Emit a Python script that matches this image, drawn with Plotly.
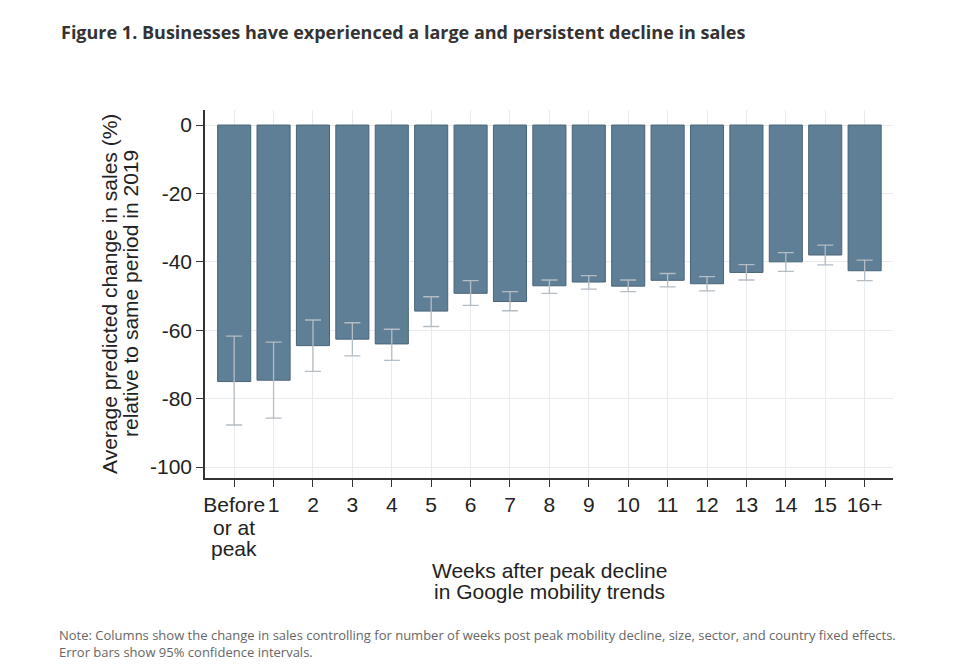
import plotly.graph_objects as go

categories = ["Before", "1", "2", "3", "4", "5", "6", "7", "8", "9",
              "10", "11", "12", "13", "14", "15", "16+"]
first_label_extra = ["or at", "peak"]
sales_change = [-75.0, -74.6, -64.5, -62.6, -64.0, -54.4, -49.2, -51.6, -47.0, -45.9,
                -47.1, -45.4, -46.4, -43.1, -40.0, -38.0, -42.6]
ci_upper = [-61.7, -63.5, -57.0, -57.8, -59.7, -50.2, -45.5, -48.7, -45.3, -44.0,
            -45.3, -43.4, -44.3, -40.8, -37.3, -35.1, -39.5]
ci_lower = [-87.7, -85.7, -72.0, -67.5, -68.8, -58.9, -52.7, -54.3, -49.2, -48.0,
            -48.7, -47.3, -48.5, -45.3, -42.8, -40.9, -45.5]
y_ticks = [0, -20, -40, -60, -80, -100]
y_tick_labels = ["0", "-20", "-40", "-60", "-80", "-100"]
x_title_lines = ["Weeks after peak decline", "in Google mobility trends"]
y_title_lines = ["Average predicted change in sales (%)", "relative to same period in 2019"]

err_plus = [u - v for u, v in zip(ci_upper, sales_change)]
err_minus = [v - l for v, l in zip(sales_change, ci_lower)]

fig = go.Figure()
fig.add_trace(go.Bar(
    x=list(range(len(categories))),
    y=sales_change,
    width=0.84,
    marker=dict(color="#5f7f96", line=dict(color="#4a6579", width=1)),
    error_y=dict(type="data", symmetric=False, array=err_plus, arrayminus=err_minus,
                 color="#b4bcc4", thickness=1.3, width=8),
))

axis_font = dict(family="Liberation Sans, Arial, sans-serif", size=21, color="#222")
title_font = dict(family="Liberation Sans, Arial, sans-serif", size=21, color="#222")

fig.update_layout(
    width=968, height=671,
    paper_bgcolor="white", plot_bgcolor="white",
    margin=dict(l=197, r=83, t=102, b=201, autoexpand=False),
    showlegend=False,
    font=axis_font,
    xaxis=dict(
        tickmode="array", tickvals=list(range(len(categories))), ticktext=categories,
        range=[-0.74, 16.72],
        showgrid=True, gridcolor="#e8ecef", gridwidth=1,
        showline=True, linecolor="#333", linewidth=1.5,
        ticks="outside", ticklen=7, tickcolor="#333", tickangle=0,
        tickfont=axis_font, automargin=False,
        zeroline=False,
    ),
    yaxis=dict(
        range=[-103.2, 4.4],
        tickmode="array", tickvals=y_ticks, ticktext=y_tick_labels,
        showgrid=True, gridcolor="#e8ecef", gridwidth=1,
        showline=True, linecolor="#333", linewidth=1.5,
        ticks="outside", ticklen=7, tickcolor="#333",
        tickfont=axis_font, automargin=False,
        zeroline=False,
    ),
)

# continuation lines of the first tick label ("Before / or at / peak")
for i, line in enumerate(first_label_extra):
    fig.add_annotation(
        text=line, xref="x", yref="paper", x=0, y=0, xanchor="center", yanchor="middle",
        yshift=-49 - 21 * i, showarrow=False, font=axis_font,
    )

# axis titles (two lines each, tight line spacing)
for i, line in enumerate(x_title_lines):
    fig.add_annotation(
        text=line, xref="paper", yref="paper", x=0.5, y=0, xanchor="center", yanchor="middle",
        yshift=-92 - 21 * i, showarrow=False, font=title_font,
    )
for i, line in enumerate(y_title_lines):
    fig.add_annotation(
        text=line, xref="paper", yref="paper", x=0, y=0.5, xanchor="center", yanchor="middle",
        xshift=-96 + 21 * i, textangle=-90, showarrow=False, font=title_font,
    )

fig.add_annotation(
    text="<b>Figure 1. Businesses have experienced a large and persistent decline in sales</b>",
    xref="paper", yref="paper", x=0, y=1, xanchor="left", yanchor="middle",
    xshift=-146, yshift=78,
    showarrow=False, font=dict(family="Open Sans, sans-serif", size=18, color="#333"),
)
fig.add_annotation(
    text="Note: Columns show the change in sales controlling for number of weeks post peak mobility decline, size, sector, and country fixed effects.<br>Error bars show 95% confidence intervals.",
    xref="paper", yref="paper", x=0, y=0, xanchor="left", yanchor="top", align="left",
    xshift=-148, yshift=-146,
    showarrow=False, font=dict(family="Open Sans, sans-serif", size=13, color="#666"),
)

fig.write_html("out.html")
